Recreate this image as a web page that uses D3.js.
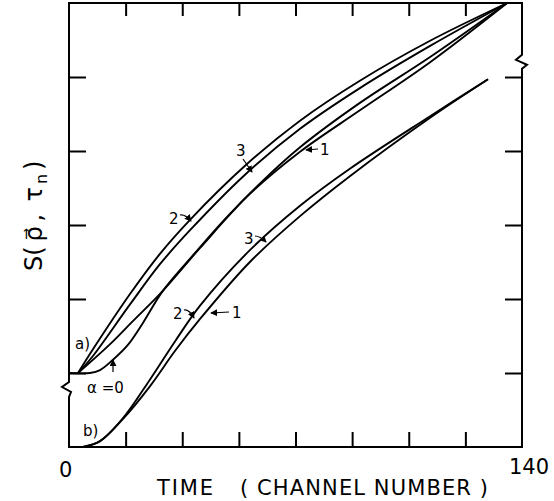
<!DOCTYPE html>
<html>
<head>
<meta charset="utf-8">
<script src="https://cdn.jsdelivr.net/npm/d3@7"></script>
<style>
  body { margin: 0; background: #fff; }
  text { font-family: "DejaVu Sans", sans-serif; fill: #000; }
</style>
</head>
<body>
<svg id="chart" width="554" height="501"></svg>
<script>
// channel ticks (inner) and S ticks (inner)
const xTicks = [17.5, 35, 52.5, 70, 87.5, 105, 122.5];
const yTicks = [1, 2, 3, 4, 5];

// group a) curves, [channel, S]
const curveA2 = [[2.8,1.0],[7.4,1.32],[18.9,2.07],[28.1,2.61],[37.4,3.07],[54.4,3.80],[71.4,4.41],[89.9,4.95],[111.6,5.49],[135.4,6.0]];
const curveA3 = [[2.8,1.0],[7.4,1.23],[18.9,1.93],[28.1,2.47],[37.4,2.93],[54.4,3.68],[71.4,4.30],[89.9,4.85],[111.6,5.42],[135.4,6.0]];
const curveA1 = [[2.8,1.0],[12.7,1.39],[19.5,1.69],[29.0,2.11],[40.5,2.69],[55.9,3.42],[71.4,3.99],[89.9,4.55],[111.6,5.20],[135.4,6.0]];
const curveA0 = [[0,1.0],[6.5,1.0],[9.6,1.04],[13.6,1.18],[18.2,1.38],[22.9,1.68],[29.0,2.11],[38.9,2.62],[48.2,3.08],[59.7,3.59],[71.4,4.05],[89.9,4.65],[111.6,5.27],[135.4,6.0]];

// group b) curves
const curveB2 = [[4.3,0],[9.6,0.08],[16.7,0.39],[25.0,0.91],[32.8,1.43],[40.5,1.91],[55.9,2.66],[71.4,3.26],[86.8,3.76],[111.6,4.47],[129.5,4.97]];
const curveB1 = [[4.3,0],[9.6,0.08],[16.7,0.38],[25.0,0.82],[32.8,1.30],[40.5,1.73],[55.9,2.50],[71.4,3.12],[86.8,3.66],[111.6,4.45],[129.5,4.97]];

const width = 554, height = 501;
const svg = d3.select("#chart");

const X = d3.scaleLinear().domain([0, 140]).range([69, 522]);
const Y = d3.scaleLinear().domain([0, 6]).range([447, 3]);

const line = d3.line().x(d => X(d[0])).y(d => Y(d[1])).curve(d3.curveCatmullRom.alpha(0.5));

svg.append("defs").append("marker")
  .attr("id", "ah")
  .attr("viewBox", "0 0 8 8")
  .attr("refX", 7).attr("refY", 4)
  .attr("markerWidth", 7).attr("markerHeight", 7)
  .attr("markerUnits", "userSpaceOnUse")
  .attr("orient", "auto")
  .append("path").attr("d", "M0,0 L8,4 L0,8 Z").attr("fill", "#000");

// frame with the two axis breaks
const frame = svg.append("g").attr("fill", "none").attr("stroke", "#000").attr("stroke-width", 2);
const x0 = X(0), x1 = X(140), yb = Y(0), yt = Y(6);
const yl = Y(1), yr = Y(5.3);
frame.append("path").attr("d",
  `M${x0},${yb} L${x0},${yl + 24} L${x0 + 2},${yl + 19} L${x0 - 7},${yl + 14} L${x0},${yl + 9} L${x0},${yt}` +
  ` L${x1},${yt} L${x1},${yr} L${x1 - 6},${yr + 5} L${x1 + 5},${yr + 10} L${x1},${yr + 14} L${x1},${yb} Z`);

const axes = svg.append("g");
function styleAxis(g) {
  g.select(".domain").remove();
  g.selectAll("line").attr("stroke", "#000").attr("stroke-width", 2);
  g.selectAll("text").remove();
}
axes.append("g").attr("transform", `translate(0,${yt})`)
  .call(d3.axisBottom(X).tickValues(xTicks).tickSize(13).tickFormat("")).call(styleAxis);
axes.append("g").attr("transform", `translate(0,${yb})`)
  .call(d3.axisTop(X).tickValues(xTicks).tickSize(15).tickFormat("")).call(styleAxis);
axes.append("g").attr("transform", `translate(${x0},0)`)
  .call(d3.axisRight(Y).tickValues(yTicks).tickSize(17).tickFormat("")).call(styleAxis);
axes.append("g").attr("transform", `translate(${x1},0)`)
  .call(d3.axisLeft(Y).tickValues(yTicks).tickSize(17).tickFormat("")).call(styleAxis);

// curves
const curves = svg.append("g").attr("fill", "none").attr("stroke", "#000").attr("stroke-width", 1.9);
for (const c of [curveA2, curveA3, curveA1, curveA0, curveB2, curveB1]) {
  curves.append("path").attr("d", line(c));
}

// axis labels
svg.append("text").attr("x", X(0) - 10).attr("y", 477).attr("font-size", 21).text("0");
svg.append("text").attr("x", X(140) - 13).attr("y", 474).attr("font-size", 21).text("140");
svg.append("text").attr("x", 157).attr("y", 495).attr("font-size", 21).attr("textLength", 56).text("TIME");
svg.append("text").attr("x", 240).attr("y", 495).attr("font-size", 21)
  .attr("textLength", 248).attr("lengthAdjust", "spacing").text("( CHANNEL NUMBER )");

const ylab = svg.append("text").attr("transform", "translate(42,271) rotate(-90)").attr("font-size", 24);
ylab.append("tspan").text("S(\u2009\u03C1\u20D7\u2009,\u2009 \u03C4");
ylab.append("tspan").attr("font-size", 16).attr("dy", 5).attr("dx", 3).text("n");
ylab.append("tspan").attr("dy", -5).attr("dx", 4).text(")");

// annotations
const ann = svg.append("g").attr("font-size", 15);
ann.append("text").attr("x", 75).attr("y", 349).text("a)");
ann.append("text").attr("x", 83).attr("y", 436).text("b)");
ann.append("text").attr("x", 87).attr("y", 393).text("\u03B1 =0");

const arrows = svg.append("g").attr("fill", "none").attr("stroke", "#000").attr("stroke-width", 1.2);
function label(txt, tx, ty, path) {
  ann.append("text").attr("x", tx).attr("y", ty).text(txt);
  arrows.append("path").attr("d", path).attr("marker-end", "url(#ah)");
}
label("", 0, 0, "M113,372 L113,360");
label("2", 169, 224, "M180,215 Q185,214 191,221");
label("3", 236, 156, "M243,159 L252,172");
label("1", 320, 155, "M318,149 L306,150");
label("3", 244, 244, "M255,236 Q260,236 266,242");
label("2", 173, 319, "M184,310 Q189,309 194,318");
label("1", 232, 318, "M229,312 L211,313");
</script>
</body>
</html>
